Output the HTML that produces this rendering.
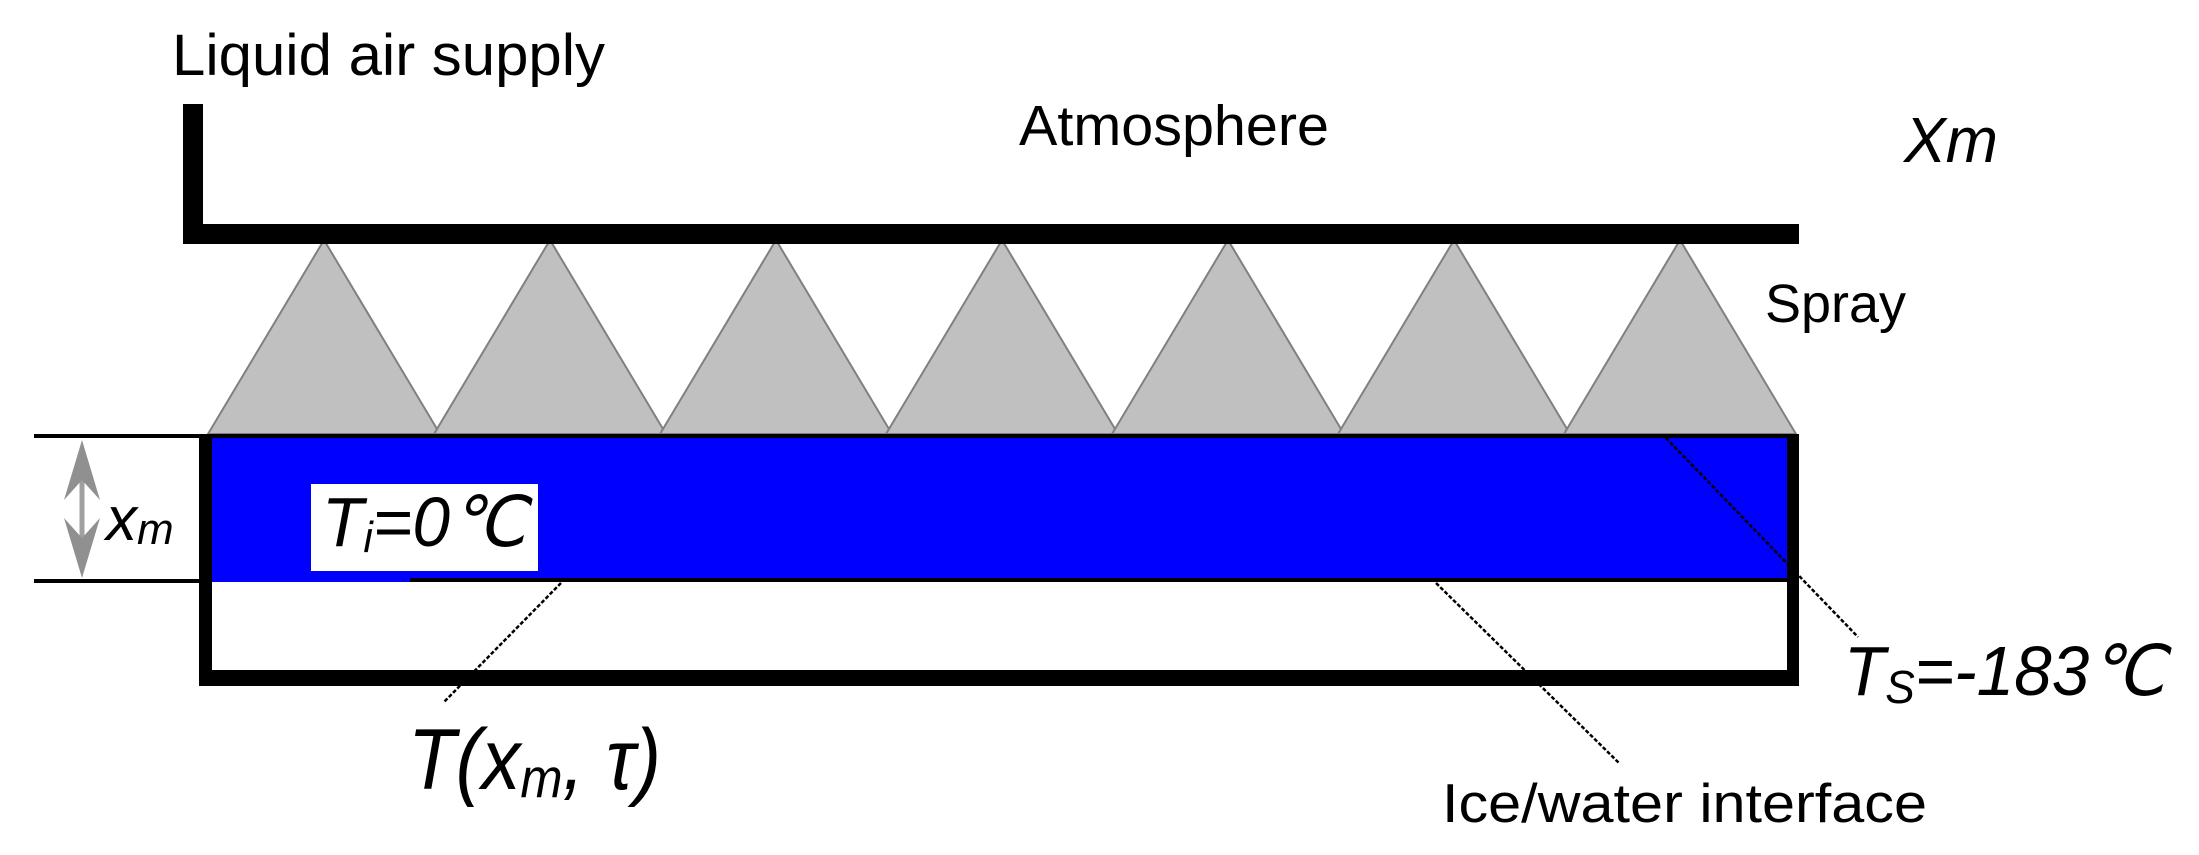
<!DOCTYPE html>
<html><head><meta charset="utf-8"><style>html,body{margin:0;padding:0;background:#fff}svg{display:block}</style></head>
<body>
<svg width="2199" height="855" viewBox="0 0 2199 855" xmlns="http://www.w3.org/2000/svg" font-family="Liberation Sans, Arial, sans-serif">
<g fill="#c0c0c0" stroke="#808080" stroke-width="2">
<polygon points="324,240 208,434 440,434"/>
<polygon points="550,240 434,434 666,434"/>
<polygon points="776,240 660,434 892,434"/>
<polygon points="1002,240 886,434 1118,434"/>
<polygon points="1228,240 1112,434 1344,434"/>
<polygon points="1454,240 1338,434 1570,434"/>
<polygon points="1680,240 1564,434 1796,434"/>
</g>
<rect x="183" y="104" width="20" height="140" fill="#000"/>
<rect x="183" y="224" width="1616" height="20" fill="#000"/>
<rect x="199" y="434" width="1600" height="252" fill="#000"/>
<rect x="212" y="438" width="1575" height="232" fill="#fff"/>
<rect x="212" y="438" width="1575" height="144" fill="#0000ff"/>
<rect x="410" y="578" width="1377" height="4" fill="#000"/>
<rect x="34" y="434" width="166" height="4" fill="#000"/>
<rect x="34" y="579" width="166" height="4" fill="#000"/>
<line x1="82" y1="452" x2="82" y2="566" stroke="#a0a0a0" stroke-width="5"/>
<polygon points="82,440 64,500 82,480 100,500" fill="#909090"/>
<polygon points="82,578 64,518 82,538 100,518" fill="#909090"/>
<text x="106" y="540" font-size="62" font-style="italic">x<tspan font-size="44" dy="4">m</tspan></text>
<rect x="311" y="484" width="227" height="87" fill="#fff"/>
<text x="322" y="546" font-size="70" font-style="italic" textLength="204" lengthAdjust="spacingAndGlyphs">T<tspan font-size="44" dy="6">i</tspan><tspan dy="-6">=0℃</tspan></text>
<g stroke="#000" stroke-width="2.5" stroke-dasharray="4,2">
<line x1="561" y1="583" x2="444" y2="702"/>
<line x1="1666" y1="438" x2="1858" y2="637"/>
<line x1="1436" y1="583" x2="1619" y2="763"/>
</g>
<text x="172" y="75" font-size="58" textLength="433" lengthAdjust="spacingAndGlyphs">Liquid air supply</text>
<text x="1019" y="145" font-size="57" textLength="310" lengthAdjust="spacingAndGlyphs">Atmosphere</text>
<text x="1904" y="162" font-size="64" font-style="italic" textLength="94" lengthAdjust="spacingAndGlyphs">Xm</text>
<text x="1765" y="322" font-size="54" textLength="141" lengthAdjust="spacingAndGlyphs">Spray</text>
<text x="1844" y="695" font-size="70" font-style="italic" textLength="321" lengthAdjust="spacingAndGlyphs">T<tspan font-size="46" dy="8">S</tspan><tspan dy="-8">=-183℃</tspan></text>
<text x="1442" y="822" font-size="55" textLength="485" lengthAdjust="spacingAndGlyphs">Ice/water interface</text>
<text x="408" y="789" font-size="86" font-style="italic" textLength="253" lengthAdjust="spacingAndGlyphs">T(x<tspan font-size="56" dy="8">m</tspan><tspan dy="-8">, τ)</tspan></text>
</svg>
</body></html>
